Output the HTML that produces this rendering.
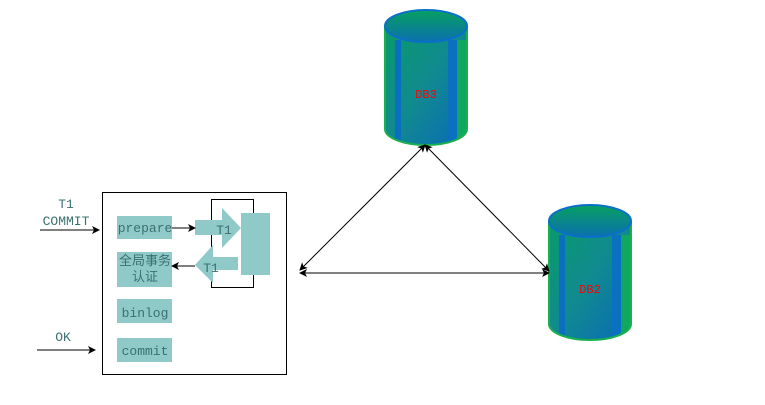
<!DOCTYPE html>
<html><head><meta charset="utf-8"><style>body{margin:0;background:#fff}svg{display:block}</style></head><body>
<svg width="765" height="405" xmlns="http://www.w3.org/2000/svg" font-family="Liberation Mono, 'Noto Sans CJK SC', monospace">
<defs>
<marker id="a" markerWidth="8" markerHeight="8" refX="7" refY="4" orient="auto-start-reverse" markerUnits="userSpaceOnUse"><path d="M0,0 L8,4 L0,8 L2,4z" fill="#000"/></marker>
<linearGradient id="g" x1="0" y1="0" x2="1" y2="1"><stop offset="0" stop-color="#0a9a6a"/><stop offset="0.5" stop-color="#108a90"/><stop offset="1" stop-color="#0a6ab8"/></linearGradient>
<linearGradient id="t" x1="0" y1="0" x2="0" y2="1"><stop offset="0" stop-color="#08a060"/><stop offset="1" stop-color="#0a70b0"/></linearGradient>
<clipPath id="c"><path d="M0,16 L0,119 A41,16 0 0 0 82,119 L82,16z"/></clipPath>
<g id="cyl">
<g clip-path="url(#c)">
<path d="M0,16 L0,119 A41,16 0 0 0 82,119 L82,16z" fill="url(#g)"/>
<rect x="10" y="30" width="6" height="110" fill="#0a6fc0"/>
<rect x="63" y="30" width="9" height="110" fill="#0a70c0"/>
<rect x="72" y="30" width="10" height="110" fill="#10a860"/>
</g>
<path d="M0,16 L0,119 A41,16 0 0 0 82,119 L82,16" fill="none" stroke="#1ab050" stroke-width="2"/>
<ellipse cx="41" cy="16" rx="41" ry="16" fill="url(#t)" stroke="#0a6fc8" stroke-width="2"/>
</g>
</defs>
<use href="#cyl" x="385" y="10"/>
<text x="426" y="98" fill="#f00" font-size="12" text-anchor="middle">DB3</text>
<use href="#cyl" x="549" y="205"/>
<text x="590" y="293" fill="#f00" font-size="12" text-anchor="middle">DB2</text>
<line x1="300" y1="270" x2="425" y2="145" stroke="#000" marker-start="url(#a)" marker-end="url(#a)"/>
<line x1="425" y1="145" x2="549" y2="271" stroke="#000" marker-start="url(#a)" marker-end="url(#a)"/>
<line x1="300" y1="273" x2="549" y2="273" stroke="#000" marker-start="url(#a)" marker-end="url(#a)"/>
<rect x="102.5" y="192.5" width="184" height="182" fill="none" stroke="#000"/>
<path d="M211.5,288 V199.5 H253.5 V287.5 H211.5" fill="none" stroke="#000"/>
<rect x="241" y="213" width="29" height="62" fill="#8fc9c8"/>
<path d="M195,220 H222 V208 L241,228 L222,248 V235 H195z" fill="#8fc9c8"/>
<path d="M238,257 H213 V245 L195,265 L213,283 V270 H238z" fill="#8fc9c8"/>
<g fill="#8fc9c8"><rect x="117" y="216" width="55" height="23"/><rect x="117" y="252" width="55" height="35"/><rect x="117" y="299" width="55" height="24"/><rect x="117" y="338" width="55" height="24"/></g>
<g fill="#3a7070" font-size="13" text-anchor="middle">
<text x="145" y="232">prepare</text>
<text x="145" y="317">binlog</text>
<text x="145" y="355">commit</text>
<text x="145" y="265">全局事务</text>
<text x="145" y="281">认证</text>
<text x="224" y="234">T1</text>
<text x="211" y="272">T1</text>
<text x="66" y="208">T1</text>
<text x="66" y="225">COMMIT</text>
<text x="63" y="341">OK</text>
</g>
<line x1="172" y1="228" x2="195" y2="228" stroke="#000" marker-end="url(#a)"/>
<line x1="195" y1="266" x2="172" y2="266" stroke="#000" marker-end="url(#a)"/>
<line x1="40" y1="230" x2="99" y2="230" stroke="#000" marker-end="url(#a)"/>
<line x1="37" y1="350" x2="95" y2="350" stroke="#000" marker-end="url(#a)"/>
</svg>
</body></html>
